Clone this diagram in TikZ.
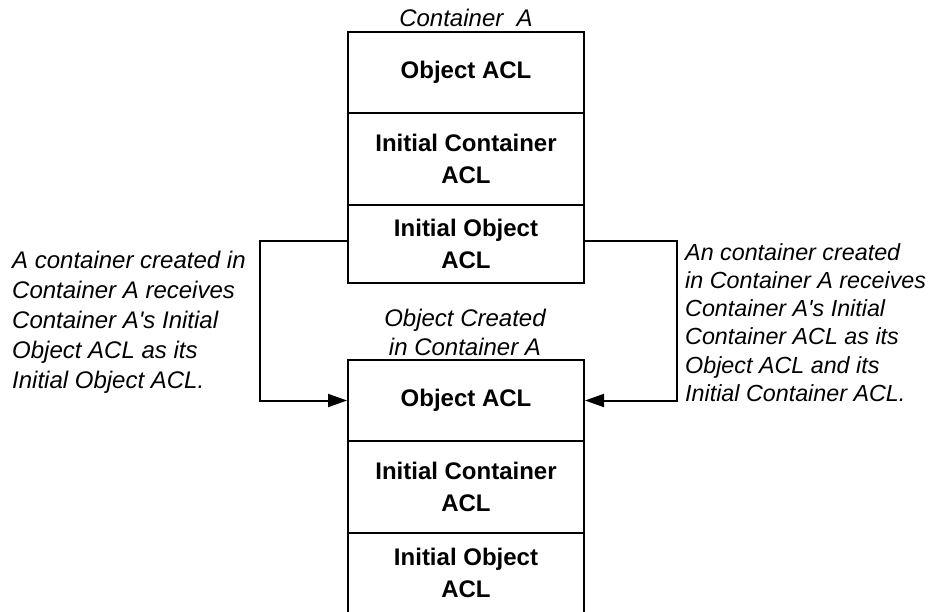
\documentclass[tikz,border=0pt]{standalone}
\usepackage{fontspec}
\setmainfont{Liberation Sans}
\usepackage{tikz}
\usetikzlibrary{arrows.meta}
\newcommand{\aclfont}{\fontsize{24}{32}\selectfont\bfseries}
\newcommand{\notefont}{\fontsize{24}{30}\selectfont\itshape}

\begin{document}
\begin{tikzpicture}[x=1pt,y=-1pt,
    aclrow/.style={draw,line width=2pt,minimum width=236pt,inner sep=0pt,
      align=center,font=\aclfont},
    note/.style={inner sep=0pt,font=\notefont},
    link/.style={line width=2pt,-{Triangle[length=19pt,width=13pt]}}]
        \clip (0,0) rectangle (939,611);
        % Top container
        \node[note] (toplab) at (466,18) {Container\ \ A};
        \node[aclrow,minimum height=81pt] (topoa) at (466,72.5) {Object ACL};
        \node[aclrow,minimum height=92pt] (topic) at (466,159) {Initial Container\\ACL};
        \node[aclrow,minimum height=78pt] (topio) at (466,244) {Initial Object\\ACL};
        % Object created in the container
        \node[note,align=center,font=\fontsize{24}{29}\selectfont\itshape] (botlab)
          at (465,332) {Object Created\\in Container A};
        \node[aclrow,minimum height=81pt] (botoa) at (466,400.5) {Object ACL};
        \node[aclrow,minimum height=92pt] (botic) at (466,487) {Initial Container\\ACL};
        \node[aclrow,minimum height=80pt] (botio) at (466,573) {Initial Object\\ACL};
        % Notes
        \node[note,align=left,anchor=west] (leftnote) at (12,322)
          {A container created in\\Container A receives\\Container A\textquotesingle s Initial\\Object ACL as its\\Initial Object ACL.};
        \node[note,align=left,anchor=west,font=\fontsize{23.3}{28.3}\selectfont\itshape] (rightnote) at (685,322.5)
          {An container created\\in Container A receives\\Container A\textquotesingle s Initial\\Container ACL as its\\Object ACL and its\\Initial Container ACL.};
        % Connectors
        \draw[link] (topio.west) ++(0,-3) -- ++(-87,0) |- (botoa.west);
        \draw[link] (topio.east) ++(0,-3) -- ++(92,0) |- (botoa.east);
      \end{tikzpicture}
\end{document}
